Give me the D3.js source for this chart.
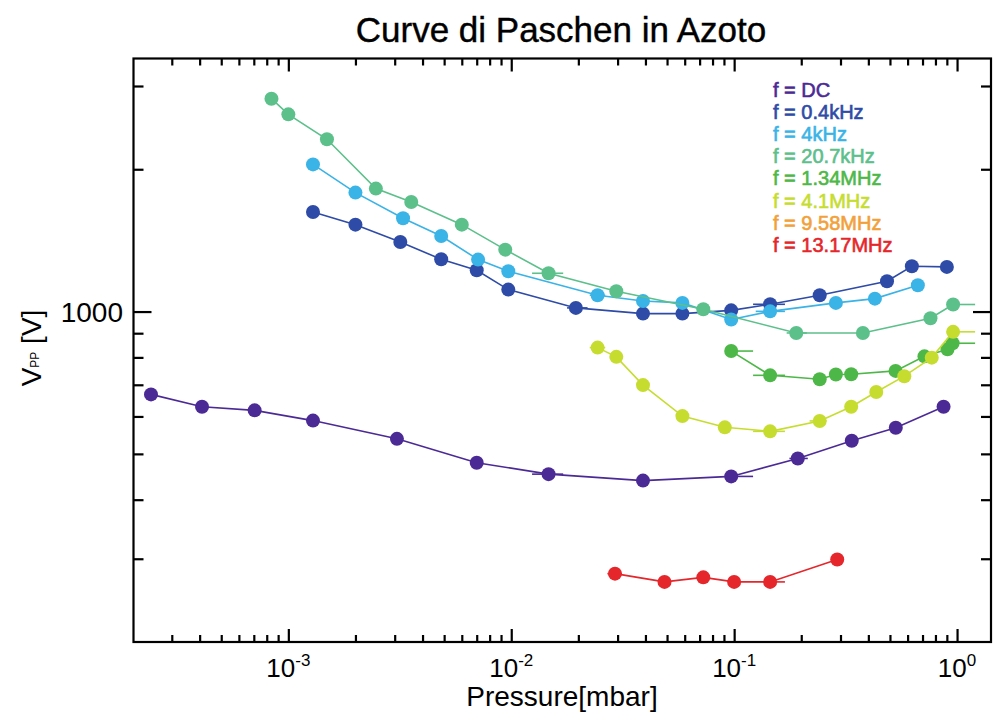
<!DOCTYPE html>
<html>
<head>
<meta charset="utf-8">
<script src="https://cdn.jsdelivr.net/npm/d3@7"></script>
<style>
  body { margin: 0; background: #fff; }
  svg { font-family: "Liberation Sans", Arial, Helvetica, sans-serif; }
</style>
</head>
<body>
<svg id="chart" width="997" height="720"></svg>
<script>
// legend labels and colours, one per frequency
const seriesNames = ["f = DC", "f = 0.4kHz", "f = 4kHz", "f = 20.7kHz",
  "f = 1.34MHz", "f = 4.1MHz", "f = 9.58MHz", "f = 13.17MHz"];
const seriesColors = ["#4b2a96", "#2d4ba7", "#3ab3e6", "#5cc08b",
  "#4db848", "#c6dd30", "#f2a13a", "#e5262b"];

// pressure [mbar] and peak-to-peak voltage [V]
const dcP = [2.42e-4, 4.1e-4, 7.06e-4, 1.29e-3, 3.07e-3, 7.0e-3, 0.0147, 0.039, 0.097, 0.193, 0.337, 0.531, 0.87];
const dcV = [668, 629, 618, 588, 538, 479, 453, 439, 448, 489, 533, 568, 629];

const f04kP = [1.29e-3, 2.0e-3, 3.18e-3, 4.85e-3, 7.0e-3, 9.7e-3, 0.0195, 0.039, 0.0586, 0.097, 0.145, 0.242, 0.485, 0.627, 0.9];
const f04kV = [1624, 1527, 1403, 1290, 1223, 1113, 1018, 990, 990, 1006, 1036, 1083, 1159, 1247, 1243];

const f4kP = [1.29e-3, 2.0e-3, 3.27e-3, 4.85e-3, 7.1e-3, 9.7e-3, 0.0244, 0.039, 0.0586, 0.097, 0.145, 0.286, 0.428, 0.667];
const f4kV = [2048, 1785, 1575, 1445, 1288, 1217, 1083, 1053, 1043, 962, 1001, 1043, 1065, 1137];

const f207kP = [8.4e-4, 1.0e-3, 1.49e-3, 2.47e-3, 3.56e-3, 6.0e-3, 9.4e-3, 0.0147, 0.0296, 0.0727, 0.19, 0.378, 0.76, 0.96];
const f207kV = [2820, 2613, 2314, 1820, 1705, 1527, 1352, 1205, 1104, 1011, 901, 901, 968, 1035];

const f134mP = [0.097, 0.145, 0.242, 0.286, 0.335, 0.53, 0.714, 0.906, 0.955];
const f134mV = [825, 733, 719, 736, 737, 749, 804, 832, 857];

const f41mP = [0.0244, 0.0296, 0.039, 0.0586, 0.0908, 0.145, 0.242, 0.335, 0.434, 0.58, 0.77, 0.96];
const f41mV = [839, 802, 699, 601, 569, 558, 587, 629, 676, 730, 799, 906];

const f958mP = [];
const f958mV = [];

const f1317mP = [0.0292, 0.0487, 0.0727, 0.1, 0.145, 0.29];
const f1317mV = [279, 268, 274, 268, 268, 299];

// horizontal error bars: [series, point, low p, high p]
const xErrors = [
  [0, 6, 0.0124, 0.0171], [0, 8, 0.097, 0.1216], [0, 9, 0.177, 0.214],
  [1, 6, 0.0178, 0.022], [1, 10, 0.1216, 0.169],
  [2, 6, 0.0225, 0.0264], [2, 10, 0.125, 0.169],
  [3, 7, 0.0124, 0.0171], [3, 10, 0.172, 0.212], [3, 13, 0.96, 1.205],
  [4, 0, 0.097, 0.1216], [4, 1, 0.1216, 0.169], [4, 8, 0.955, 1.205],
  [5, 0, 0.0225, 0.0264], [5, 5, 0.1216, 0.169], [5, 6, 0.218, 0.26], [5, 11, 0.96, 1.205],
  [7, 0, 0.027, 0.0314], [7, 4, 0.145, 0.169]
];

const xMajor = [1e-3, 1e-2, 1e-1, 1];
const xMinor = [3e-4, 4e-4, 5e-4, 6e-4, 7e-4, 8e-4, 9e-4,
  2e-3, 3e-3, 4e-3, 5e-3, 6e-3, 7e-3, 8e-3, 9e-3,
  2e-2, 3e-2, 4e-2, 5e-2, 6e-2, 7e-2, 8e-2, 9e-2,
  2e-1, 3e-1, 4e-1, 5e-1, 6e-1, 7e-1, 8e-1, 9e-1];
const yMajor = [1000];
const yMinor = [300, 400, 500, 600, 700, 800, 900, 2000, 3000];

const allP = [dcP, f04kP, f4kP, f207kP, f134mP, f41mP, f958mP, f1317mP];
const allV = [dcV, f04kV, f4kV, f207kV, f134mV, f41mV, f958mV, f1317mV];
const series = seriesNames.map((name, i) => ({
  name,
  color: seriesColors[i],
  points: allP[i].map((p, j) => ({ p, v: allV[i][j] }))
}));

const box = { left: 133.5, right: 991, top: 58.5, bottom: 642 };

const x = d3.scaleLog().domain([2.02e-4, 1.42]).range([box.left, box.right]);
const y = d3.scaleLog().domain([200, 3430]).range([box.bottom, box.top]);

const svg = d3.select("#chart");

// title
svg.append("text")
  .attr("x", 561)
  .attr("y", 42)
  .attr("text-anchor", "middle")
  .attr("stroke", "#000")
  .attr("stroke-width", 0.4)
  .style("font-size", "35px")
  .text("Curve di Paschen in Azoto");

// ticks on all four sides, pointing inward
function tickAxis(axisFn, pos, transform, major, minor, bigLen, smallLen) {
  const g = svg.append("g").attr("transform", transform);
  g.append("g").call(axisFn(pos).tickValues(minor).tickSize(-smallLen).tickFormat(""));
  g.append("g").call(axisFn(pos).tickValues(major).tickSize(-bigLen).tickFormat(""));
  g.selectAll(".domain").remove();
  g.selectAll(".tick line").attr("stroke", "#000").attr("stroke-width", 2.2);
  return g;
}

tickAxis(d3.axisBottom, x, `translate(0,${box.bottom})`, xMajor, xMinor, 13, 7);
tickAxis(d3.axisTop, x, `translate(0,${box.top})`, xMajor, xMinor, 13, 7);
tickAxis(d3.axisLeft, y, `translate(${box.left},0)`, yMajor, yMinor, 18, 10);
tickAxis(d3.axisRight, y, `translate(${box.right},0)`, yMajor, yMinor, 18, 10);

svg.append("rect")
  .attr("x", box.left)
  .attr("y", box.top)
  .attr("width", box.right - box.left)
  .attr("height", box.bottom - box.top)
  .attr("fill", "none")
  .attr("stroke", "#000")
  .attr("stroke-width", 2.2);

// x tick labels as 10^n
const xLabels = svg.append("g")
  .selectAll("text")
  .data(xMajor)
  .join("text")
  .attr("x", d => x(d))
  .attr("y", 677)
  .attr("text-anchor", "middle")
  .style("font-size", "26px");
xLabels.append("tspan").text("10");
xLabels.append("tspan")
  .attr("dy", -11)
  .style("font-size", "17px")
  .text(d => Math.round(Math.log10(d)));

// y tick label
svg.append("g")
  .selectAll("text")
  .data(yMajor)
  .join("text")
  .attr("x", 123)
  .attr("y", d => y(d))
  .attr("dy", "0.36em")
  .attr("text-anchor", "end")
  .style("font-size", "28px")
  .text(d => d);

// axis titles
svg.append("text")
  .attr("x", 562)
  .attr("y", 706)
  .attr("text-anchor", "middle")
  .style("font-size", "28px")
  .text("Pressure[mbar]");

const yTitle = svg.append("text")
  .attr("transform", "translate(41,348) rotate(-90)")
  .attr("text-anchor", "middle")
  .style("font-size", "28px");
yTitle.append("tspan").text("V");
yTitle.append("tspan").attr("dy", -2).style("font-size", "12px").text("PP");
yTitle.append("tspan").attr("dy", 2).text(" [V]");

// error bars
svg.append("g")
  .selectAll("line")
  .data(xErrors)
  .join("line")
  .attr("x1", d => x(d[2]))
  .attr("x2", d => x(d[3]))
  .attr("y1", d => y(series[d[0]].points[d[1]].v))
  .attr("y2", d => y(series[d[0]].points[d[1]].v))
  .attr("stroke", d => series[d[0]].color)
  .attr("stroke-width", 1.6);

const line = d3.line().x(d => x(d.p)).y(d => y(d.v));

const groups = svg.append("g")
  .selectAll("g")
  .data(series)
  .join("g");

groups.append("path")
  .attr("d", d => line(d.points))
  .attr("fill", "none")
  .attr("stroke", d => d.color)
  .attr("stroke-width", 1.6);

groups.selectAll("circle")
  .data(d => d.points.map(pt => ({ ...pt, color: d.color })))
  .join("circle")
  .attr("cx", d => x(d.p))
  .attr("cy", d => y(d.v))
  .attr("r", 7)
  .attr("fill", d => d.color);

// legend
svg.append("g")
  .selectAll("text")
  .data(series)
  .join("text")
  .attr("x", 773)
  .attr("y", (d, i) => 97 + i * 22.1)
  .attr("fill", d => d.color)
  .attr("stroke", d => d.color)
  .attr("stroke-width", 0.6)
  .style("font-size", "20px")
  .text(d => d.name);
</script>
</body>
</html>
